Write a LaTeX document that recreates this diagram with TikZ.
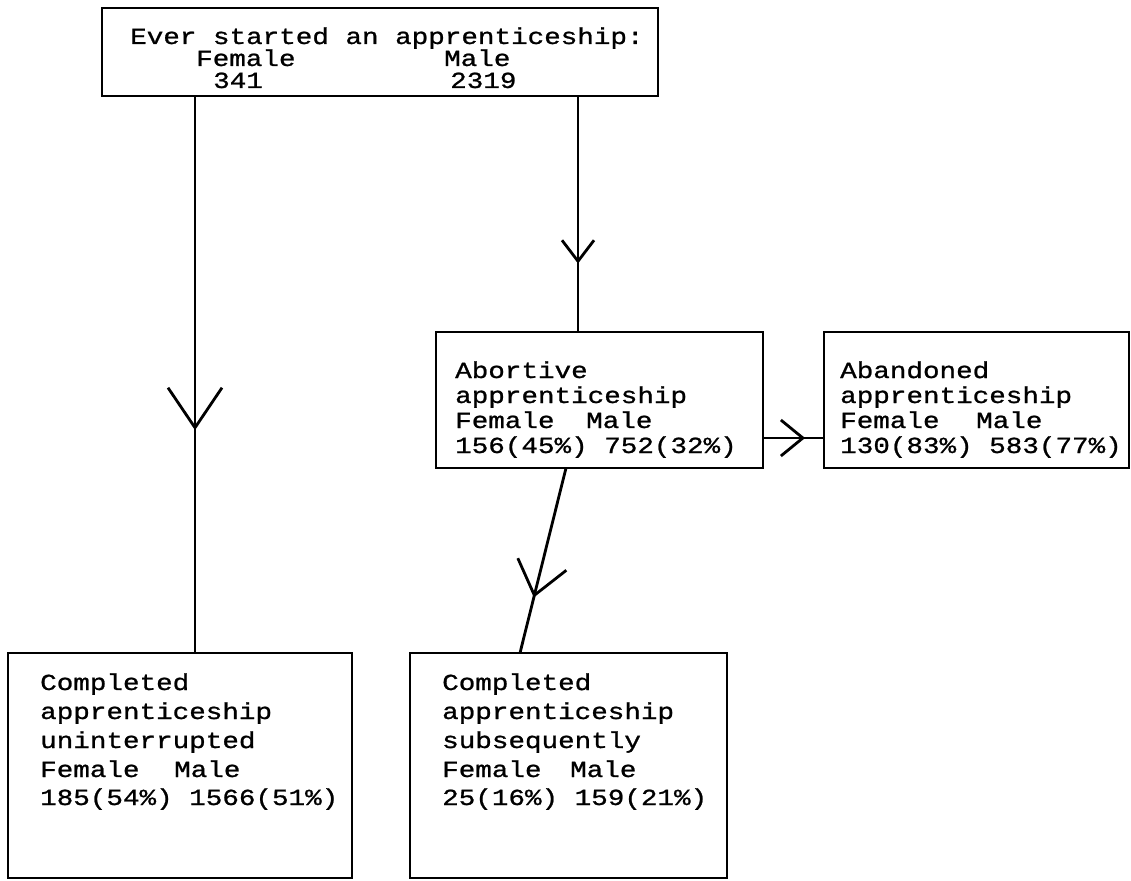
\documentclass[tikz,border=0pt]{standalone}
\usepackage{fontspec}
\newfontfamily\twfont[FakeStretch=1.2,FakeBold=1]{Liberation Mono}
\usetikzlibrary{arrows.meta,decorations.markings}
\tikzset{
  box/.style={draw, line width=2.8pt, inner sep=0pt, outer sep=0pt, anchor=north west},
  txt/.style={anchor=base west, inner sep=0pt, font=\twfont\fontsize{23}{25}\selectfont},
  conn/.style={line width=2.8pt},
  vmark/.style 2 args={postaction={decorate, decoration={markings,
      mark=at position #1 with {\arrow{#2}}}}},
}
\begin{document}
\begin{tikzpicture}[x=1pt,y=-1pt]
\useasboundingbox (0,0) rectangle (1131,880);
% boxes
\node[box, minimum width=556pt, minimum height=88pt] (top) at (102,8) {};
\node[box, minimum width=327pt, minimum height=136pt] (abort) at (436,332) {};
\node[box, minimum width=305pt, minimum height=136pt] (aband) at (824,332) {};
\node[box, minimum width=344pt, minimum height=225pt] (bl) at (8,653) {};
\node[box, minimum width=317pt, minimum height=225pt] (bm) at (410,653) {};
% texts
\node[txt] (t1) at (130,44) {Ever started an apprenticeship:};
\node[txt] (t2) at (196,66) {Female};
\node[txt] (t3) at (444,66) {Male};
\node[txt] (t4) at (213,88) {341};
\node[txt] (t5) at (450,88) {2319};

\node[txt] (a1) at (455,378) {Abortive};
\node[txt] (a2) at (455,403) {apprenticeship};
\node[txt] (a3) at (455,428) {Female};
\node[txt] (a4) at (586,428) {Male};
\node[txt] (a5) at (455,453) {156(45\%) 752(32\%)};

\node[txt] (b1) at (840,378) {Abandoned};
\node[txt] (b2) at (840,403) {apprenticeship};
\node[txt] (b3) at (840,428) {Female};
\node[txt] (b4) at (976,428) {Male};
\node[txt] (b5) at (840,453) {130(83\%) 583(77\%)};

\node[txt] (c1) at (40,690) {Completed};
\node[txt] (c2) at (40,719) {apprenticeship};
\node[txt] (c3) at (40,748) {uninterrupted};
\node[txt] (c4) at (40,777) {Female};
\node[txt] (c5) at (174,777) {Male};
\node[txt] (c6) at (40,805) {185(54\%) 1566(51\%)};

\node[txt] (d1) at (442,690) {Completed};
\node[txt] (d2) at (442,719) {apprenticeship};
\node[txt] (d3) at (442,748) {subsequently};
\node[txt] (d4) at (442,777) {Female};
\node[txt] (d5) at (570,777) {Male};
\node[txt] (d6) at (442,805) {25(16\%) 159(21\%)};
% connectors with mid-line open V marks
\draw[conn, vmark={0.6}{Straight Barb[length=40pt,width=54pt,line width=2.8pt]}]
  ([xshift=93pt]top.south west) -- ([xshift=187pt]bl.north west);
\draw[conn, vmark={0.71}{Straight Barb[length=21pt,width=32pt,line width=2.8pt]}]
  ([xshift=476pt]top.south west) -- ([xshift=142pt]abort.north west);
\draw[conn, vmark={0.69}{Straight Barb[length=22pt,width=36pt,line width=2.8pt]}]
  ([yshift=-106pt]abort.north east) -- ([yshift=-106pt]aband.north west);
\draw[conn, vmark={0.7}{Straight Barb[length=32pt,width=50pt,line width=2.8pt]}]
  ([xshift=130pt]abort.south west) -- ([xshift=110pt]bm.north west);
\end{tikzpicture}
\end{document}
